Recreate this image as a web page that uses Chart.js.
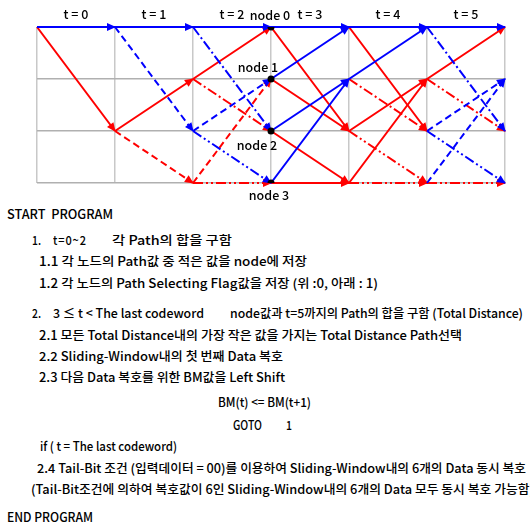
<!DOCTYPE html>
<html>
<head>
<meta charset="utf-8">
<script src="https://cdn.jsdelivr.net/npm/chart.js@4.4.1/dist/chart.umd.min.js"></script>
<style>
html, body { margin: 0; padding: 0; background: #fff; overflow: hidden; width: 530px; height: 523px; }
#wrap { position: absolute; left: 0; top: 0; width: 530px; height: 200px; }
.t { position: absolute; white-space: pre; font: 500 12.5px "Noto Sans CJK KR", sans-serif; line-height: 14px; color: #000; transform-origin: 0 50%; }
</style>
</head>
<body>
<div id="wrap"><canvas id="trellis" width="530" height="200"></canvas></div>

<div class="t" data-x1="7" data-x2="113" data-y="214">START  PROGRAM</div>
<div class="t" data-x1="32" data-x2="41" data-y="240">1.</div>
<div class="t" data-x1="53" data-x2="86" data-y="240">t = 0 ~ 2</div>
<div class="t" data-x1="112" data-x2="232" data-y="240">각 Path의 합을 구함</div>
<div class="t" data-x1="39" data-x2="307" data-y="261">1.1 각 노드의 Path값 중 적은 값을 node에 저장</div>
<div class="t" data-x1="39" data-x2="378" data-y="283">1.2 각 노드의 Path Selecting Flag값을 저장 (위 :0, 아래 : 1)</div>
<div class="t" data-x1="32" data-x2="41" data-y="313">2.</div>
<div class="t" data-x1="53" data-x2="204" data-y="313">3 ≤ t &lt; The last codeword</div>
<div class="t" data-x1="230" data-x2="523" data-y="313">node값과 t=5까지의 Path의 합을 구함 (Total Distance)</div>
<div class="t" data-x1="39" data-x2="462" data-y="335">2.1 모든 Total Distance내의 가장 작은 값을 가지는 Total Distance Path선택</div>
<div class="t" data-x1="39" data-x2="283" data-y="356">2.2 Sliding-Window내의 첫 번째 Data 복호</div>
<div class="t" data-x1="39" data-x2="285" data-y="377">2.3 다음 Data 복호를 위한 BM값을 Left Shift</div>
<div class="t" data-x1="218" data-x2="311" data-y="402">BM(t) &lt;= BM(t+1)</div>
<div class="t" data-x1="233" data-x2="262" data-y="425">GOTO</div>
<div class="t" data-x1="286" data-x2="292" data-y="425">1</div>
<div class="t" data-x1="40" data-x2="177" data-y="446">if ( t = The last codeword)</div>
<div class="t" data-x1="37" data-x2="526" data-y="468">2.4 Tail-Bit 조건 (입력데이터 = 00)를 이용하여 Sliding-Window내의 6개의 Data 동시 복호</div>
<div class="t" data-x1="31" data-x2="534" data-y="489">(Tail-Bit조건에 의하여 복호값이 6인 Sliding-Window내의 6개의 Data 모두 동시 복호 가능함)</div>
<div class="t" data-x1="7" data-x2="93" data-y="517">END PROGRAM</div>

<script>
const timeLabels = ['t = 0', 't = 1', 't = 2', 't = 3', 't = 4', 't = 5']
const nodeLabels = ['node 0', 'node 1', 'node 2', 'node 3']
const nodeStep = 3

// branches as [t, from node, to node]
const blueSolid = [[0,0,0],[1,0,0],[2,0,0],[3,0,0],[3,1,0],[3,2,1],[3,3,1],[4,0,0],[4,1,0],[5,0,0]]
const blueDashed = [[1,0,2],[2,2,1],[5,2,1],[5,3,1]]
const blueDashDot = [[2,0,2],[5,0,2]]
const blueDashDotDot = [[2,2,3],[5,2,3]]
const redSolid = [[0,0,2],[1,2,1],[2,1,0],[3,0,2],[3,1,2],[3,2,3],[3,3,3],[4,0,2],[4,2,1],[4,3,1],[5,1,0]]
const redDashed = [[1,2,3],[2,3,1]]
const redDashDot = [[2,1,2],[4,1,2]]
const redDashDotDot = [[2,3,3],[4,2,3],[4,3,3],[5,1,2],[5,3,3]]

const BLUE = '#0000ff', RED = '#ff0000'
const DASH = [7, 4], DASH_DOT = [10, 3, 2, 3], DASH_DOT_DOT = [10, 3, 2, 3, 2, 3]

const groups = [
    [blueSolid, BLUE, []], [blueDashed, BLUE, DASH], [blueDashDot, BLUE, DASH_DOT], [blueDashDotDot, BLUE, DASH_DOT_DOT],
    [redSolid, RED, []], [redDashed, RED, DASH], [redDashDot, RED, DASH_DOT], [redDashDotDot, RED, DASH_DOT_DOT]
]

var datasets = [{
    data: nodeLabels.map((_, n) => ({x: nodeStep, y: n})),
    showLine: false,
    pointRadius: 3.5,
    pointBackgroundColor: '#000',
    pointBorderColor: '#000',
    pointBorderWidth: 0
}]

groups.forEach(([edges, color, dash]) => {
    edges.forEach(([t, a, b]) => {
        datasets.push({
            data: [{x: t, y: a}, {x: t + 1, y: b}],
            showLine: true,
            borderColor: color,
            backgroundColor: color,
            borderWidth: 2,
            borderDash: dash,
            pointRadius: 0,
            clip: false,
            arrow: true
        })
    })
})

const arrowHeads = {
    id: 'arrowHeads',
    afterDatasetDraw(chart, args) {
        const ds = chart.data.datasets[args.index]
        if (!ds.arrow) return
        const pts = args.meta.data
        const a = pts[0], b = pts[1]
        const ang = Math.atan2(b.y - a.y, b.x - a.x)
        const ctx = chart.ctx
        ctx.save()
        ctx.translate(b.x, b.y)
        ctx.rotate(ang)
        ctx.fillStyle = ds.borderColor
        ctx.beginPath()
        ctx.moveTo(1, 0)
        ctx.lineTo(-8, -4)
        ctx.lineTo(-8, 4)
        ctx.closePath()
        ctx.fill()
        ctx.restore()
    }
}

// offsets of the node labels from their dots
const nodeLabelOffset = [[-1, -12], [-13, -12], [-14, 14], [-2, 12]]

const labels = {
    id: 'labels',
    afterDraw(chart) {
        const ctx = chart.ctx, xs = chart.scales.x, ys = chart.scales.y
        ctx.save()
        ctx.fillStyle = '#000'
        ctx.font = '500 12.5px "Noto Sans CJK KR", "Liberation Sans", sans-serif'
        ctx.textAlign = 'center'
        ctx.textBaseline = 'middle'
        timeLabels.forEach((s, i) => {
            ctx.fillText(s, xs.getPixelForValue(i + 0.5), chart.chartArea.top - 13)
        })
        nodeLabels.forEach((s, n) => {
            const [dx, dy] = nodeLabelOffset[n]
            ctx.fillText(s, xs.getPixelForValue(nodeStep) + dx, ys.getPixelForValue(n) + dy)
        })
        ctx.restore()
    }
}

new Chart(document.getElementById('trellis').getContext('2d'), {
    type: 'scatter',
    data: {datasets: datasets},
    options: {
        responsive: false,
        animation: false,
        events: [],
        layout: {padding: {left: 37, right: 25, top: 27, bottom: 17}},
        plugins: {legend: {display: false}, tooltip: {enabled: false}},
        scales: {
            x: {
                type: 'linear', min: 0, max: timeLabels.length,
                ticks: {display: false, stepSize: 1},
                grid: {color: '#c8c8c8', lineWidth: 1.5, drawTicks: false},
                border: {display: false}
            },
            y: {
                type: 'linear', min: 0, max: nodeLabels.length - 1, reverse: true,
                ticks: {display: false, stepSize: 1},
                grid: {color: '#b0b0b0', lineWidth: 1.5, drawTicks: false},
                border: {display: false}
            }
        }
    },
    plugins: [arrowHeads, labels]
})

// squeeze each text line to the width it has in the picture; narrow the spaces first
function fitText() {
    document.querySelectorAll('.t').forEach(el => {
        const x1 = +el.dataset.x1, x2 = +el.dataset.x2, y = +el.dataset.y
        const target = x2 - x1
        el.style.transform = 'none'
        el.style.wordSpacing = '0px'
        el.style.left = x1 + 'px'
        el.style.top = (y - 7) + 'px'
        var w = el.getBoundingClientRect().width
        const spaces = (el.textContent.match(/ /g) || []).length
        if (target / w < 0.88 && spaces > 0) {
            const ws = Math.max(-2.5, (target / 0.88 - w) / spaces)
            el.style.wordSpacing = ws + 'px'
            w = el.getBoundingClientRect().width
        }
        el.style.transform = 'scaleX(' + (target / w) + ')'
    })
}
fitText()
document.fonts.ready.then(fitText)
</script>
</body>
</html>
